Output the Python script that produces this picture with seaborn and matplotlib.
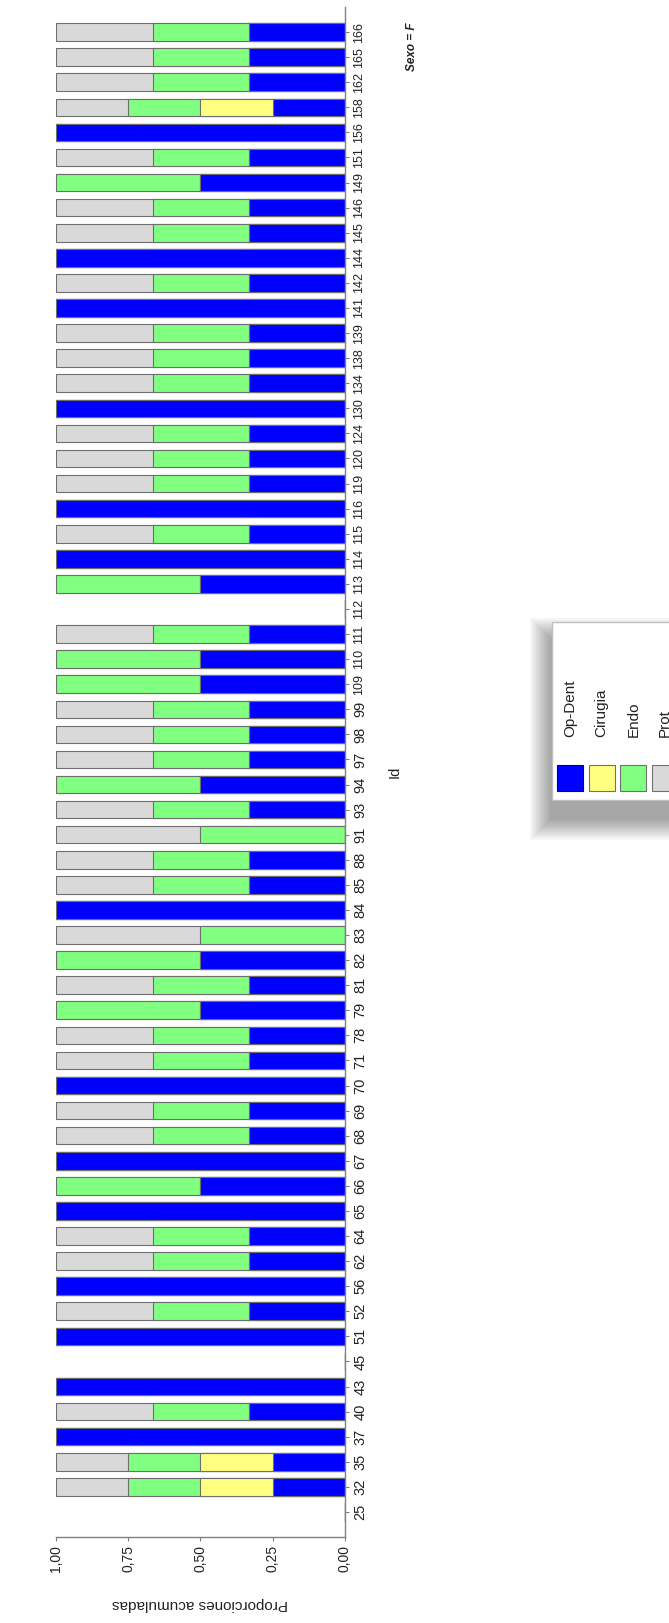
import numpy as np
import pandas as pd
import seaborn as sns
import matplotlib.pyplot as plt
from matplotlib import font_manager as fm
from matplotlib.patches import Rectangle

# Ids (bottom to top) and the proportion of each treatment per Id
ids = [25, 32, 35, 37, 40, 43, 45, 51, 52, 56,
       62, 64, 65, 66, 67, 68, 69, 70, 71, 78,
       79, 81, 82, 83, 84, 85, 88, 91, 93, 94,
       97, 98, 99, 109, 110, 111, 112, 113, 114, 115,
       116, 119, 120, 124, 130, 134, 138, 139, 141, 142,
       144, 145, 146, 149, 151, 156, 158, 162, 165, 166]

op_dent = [0, .25, .25, 1, .333, 1, 0, 1, .333, 1,
           .333, .333, 1, .5, 1, .333, .333, 1, .333, .333,
           .5, .333, .5, 0, 1, .333, .333, 0, .333, .5,
           .333, .333, .333, .5, .5, .333, 0, .5, 1, .333,
           1, .333, .333, .333, 1, .333, .333, .333, 1, .333,
           1, .333, .333, .5, .333, 1, .25, .333, .333, .333]

cirugia = [0, .25, .25, 0, 0, 0, 0, 0, 0, 0,
           0, 0, 0, 0, 0, 0, 0, 0, 0, 0,
           0, 0, 0, 0, 0, 0, 0, 0, 0, 0,
           0, 0, 0, 0, 0, 0, 0, 0, 0, 0,
           0, 0, 0, 0, 0, 0, 0, 0, 0, 0,
           0, 0, 0, 0, 0, 0, .25, 0, 0, 0]

endo = [0, .25, .25, 0, .333, 0, 0, 0, .333, 0,
        .333, .333, 0, .5, 0, .333, .333, 0, .333, .333,
        .5, .333, .5, .5, 0, .333, .333, .5, .333, .5,
        .333, .333, .333, .5, .5, .333, 0, .5, 0, .333,
        0, .333, .333, .333, 0, .333, .333, .333, 0, .333,
        0, .333, .333, .5, .333, 0, .25, .333, .333, .333]

prot = [0, .25, .25, 0, .334, 0, 0, 0, .334, 0,
        .334, .334, 0, 0, 0, .334, .334, 0, .334, .334,
        0, .334, 0, .5, 0, .334, .334, .5, .334, 0,
        .334, .334, .334, 0, 0, .334, 0, 0, 0, .334,
        0, .334, .334, .334, 0, .334, .334, .334, 0, .334,
        0, .334, .334, 0, .334, 0, .25, .334, .334, .334]

categories = ["Op-Dent", "Cirugia", "Endo", "Prot"]
colors = ["#0000ff", "#ffff80", "#80ff80", "#d9d9d9"]
value_ticks = [0, 0.25, 0.5, 0.75, 1.0]
value_labels = ["0,00", "0,25", "0,50", "0,75", "1,00"]

sns.set_style("white")
plt.rcParams['font.family'] = ['Liberation Sans', 'DejaVu Sans']


def has_font(name):
    try:
        fm.findfont(fm.FontProperties(family=name), fallback_to_default=False)
        return True
    except Exception:
        return False


narrow = 'Liberation Sans Narrow' if has_font('Liberation Sans Narrow') else None

df = pd.DataFrame({"Id": [str(i) for i in ids],
                   "Op-Dent": op_dent, "Cirugia": cirugia,
                   "Endo": endo, "Prot": prot})
cum = df[categories].cumsum(axis=1)
for c in categories:
    df["cum_" + c] = cum[c]

order = [str(i) for i in ids][::-1]

W, H = 669, 1623
fig = plt.figure(figsize=(W / 100, H / 100), dpi=100)
ax = fig.add_axes([56 / W, 1 - 1537 / H, (345 - 56) / W, (1537 - 7) / H])

# stacked bars: draw the cumulative totals from the outermost layer inwards
for cat, col in zip(categories[::-1], colors[::-1]):
    sns.barplot(data=df, x="cum_" + cat, y="Id", order=order, orient="h",
                color=col, saturation=1, width=0.7, edgecolor="#6e6e6e",
                linewidth=0.8, errorbar=None, ax=ax)

ax.set_xlim(1, 0)
ax.set_ylim(len(ids), -1)

for s in ["left", "top"]:
    ax.spines[s].set_visible(False)
for s in ["bottom", "right"]:
    ax.spines[s].set_color("#808080")
    ax.spines[s].set_linewidth(1)

ax.set_xticks(value_ticks)
ax.set_xticklabels(value_labels, rotation=90, fontsize=10, color="#222222")
ax.tick_params(axis="x", bottom=True, length=3, color="#808080", pad=3)

ax.yaxis.tick_right()
ax.set_yticks(range(len(order)))
ax.set_yticklabels(order, rotation=90, va="center", color="#222222")
ax.tick_params(axis="y", right=True, left=False, length=3, color="#808080", pad=3)
for t in ax.get_yticklabels():
    if len(t.get_text()) > 2:
        if narrow:
            t.set_fontfamily(narrow)
            t.set_fontsize(9.5)
        else:
            t.set_fontsize(9)
    else:
        t.set_fontsize(10.5)

ax.set_xlabel("Proporciones acumuladas", rotation=180, fontsize=11,
              labelpad=18, color="#222222")
ax.set_ylabel("")
fig.text(395 / W, 1 - 772 / H, "Id", rotation=90, ha="center", va="center",
         fontsize=10.5, color="#222222")
fig.text(412 / W, 1 - 47 / H, "Sexo = F", rotation=90, ha="center", va="center",
         fontsize=8.5, fontweight="bold", fontstyle="italic", color="#222222")

# legend box with a soft drop shadow
bx0, bx1, by0, by1 = 552, 690, 622, 800
for r in range(22, 0, -2):
    fig.patches.append(Rectangle(((bx0 - r) / W, 1 - (by1 + 18 + r) / H),
                                 (bx1 - bx0 + 2 * r) / W, (by1 - by0 + 2 * r) / H,
                                 transform=fig.transFigure, facecolor="black",
                                 edgecolor="none", alpha=0.035, zorder=5))
fig.patches.append(Rectangle((bx0 / W, 1 - by1 / H), (bx1 - bx0) / W, (by1 - by0) / H,
                             transform=fig.transFigure, facecolor="white",
                             edgecolor="#c0c0c0", linewidth=1, zorder=6))
for i, (cat, col) in enumerate(zip(categories, colors)):
    x0 = 557 + i * 31.7
    edge = "#000080" if i == 0 else "#707070"
    fig.patches.append(Rectangle((x0 / W, 1 - 791 / H), 26 / W, 26 / H,
                                 transform=fig.transFigure, facecolor=col,
                                 edgecolor=edge, linewidth=0.8, zorder=7))
    fig.text((x0 + 13) / W, 1 - 737 / H, cat, rotation=90, ha="center", va="bottom",
             fontsize=11, color="#222222", zorder=8)

fig.savefig("out.png", dpi=100)
